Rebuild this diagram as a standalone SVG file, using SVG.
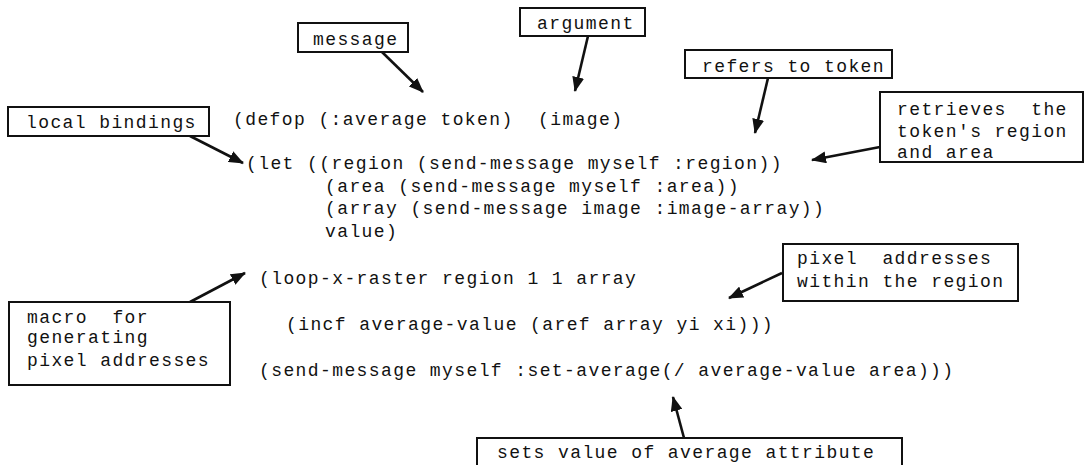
<svg xmlns="http://www.w3.org/2000/svg" width="1085" height="465" viewBox="0 0 1085 465">
  <style>
    text { font-family: "Liberation Mono", "Courier New", monospace; font-size: 18px; letter-spacing: 1.4px; fill: #111; }
    .box { fill: #fff; stroke: #111; stroke-width: 2; }
    .conn { stroke: #111; stroke-width: 2.6; fill: none; marker-end: url(#arrow); }
  </style>
  <defs>
    <marker id="arrow" markerUnits="userSpaceOnUse" markerWidth="16" markerHeight="12" refX="14" refY="6" orient="auto">
      <path d="M0,0 L15,6 L0,12 z" fill="#111"/>
    </marker>
  </defs>
  <rect width="1085" height="465" fill="#fff"/>

  <g id="code">
    <text x="233" y="125" xml:space="preserve">(defop (:average token)  (image)</text>
    <text x="246" y="169">(let ((region (send-message myself :region))</text>
    <text x="325" y="192">(area (send-message myself :area))</text>
    <text x="325" y="214">(array (send-message image :image-array))</text>
    <text x="325" y="237">value)</text>
    <text x="259" y="284">(loop-x-raster region 1 1 array</text>
    <text x="286" y="330">(incf average-value (aref array yi xi)))</text>
    <text x="259" y="376">(send-message myself :set-average(/ average-value area)))</text>
  </g>

  <g id="connectors">
    <line class="conn" x1="382" y1="52" x2="423" y2="92"/>
    <line class="conn" x1="588" y1="36" x2="575" y2="91"/>
    <line class="conn" x1="768" y1="78" x2="755" y2="133"/>
    <line class="conn" x1="190" y1="136" x2="243" y2="163"/>
    <line class="conn" x1="880" y1="147" x2="812" y2="160"/>
    <line class="conn" x1="782" y1="273" x2="729" y2="298"/>
    <line class="conn" x1="190" y1="302" x2="245" y2="273"/>
    <line class="conn" x1="684" y1="438" x2="673" y2="397"/>
  </g>

  <g id="message">
    <rect class="box" x="298" y="23" width="110" height="29"/>
    <text x="313" y="45">message</text>
  </g>
  <g id="argument">
    <rect class="box" x="520" y="8" width="125" height="28"/>
    <text x="537" y="29">argument</text>
  </g>
  <g id="refers-to-token">
    <rect class="box" x="685" y="50" width="207" height="28"/>
    <text x="702" y="72">refers to token</text>
  </g>
  <g id="local-bindings">
    <rect class="box" x="8" y="107" width="201" height="29"/>
    <text x="26" y="128">local bindings</text>
  </g>
  <g id="retrieves">
    <rect class="box" x="880" y="92" width="203" height="70"/>
    <text x="897" y="115" xml:space="preserve">retrieves  the</text>
    <text x="897" y="137">token's region</text>
    <text x="897" y="158">and area</text>
  </g>
  <g id="pixel-addresses">
    <rect class="box" x="783" y="244" width="235" height="57"/>
    <text x="797" y="264" xml:space="preserve">pixel  addresses</text>
    <text x="797" y="287">within the region</text>
  </g>
  <g id="macro">
    <rect class="box" x="9" y="302" width="221" height="83"/>
    <text x="27" y="323" xml:space="preserve">macro  for</text>
    <text x="27" y="343">generating</text>
    <text x="27" y="366">pixel addresses</text>
  </g>
  <g id="sets-value">
    <rect class="box" x="477" y="438" width="425" height="32"/>
    <text x="497" y="458">sets value of average attribute</text>
  </g>
</svg>
